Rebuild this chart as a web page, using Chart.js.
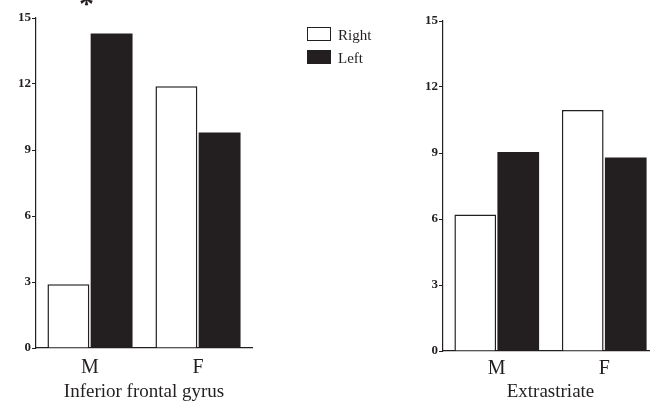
<!DOCTYPE html>
<html>
<head>
<meta charset="utf-8">
<script src="https://cdn.jsdelivr.net/npm/chart.js@4.4.1/dist/chart.umd.min.js"></script>
<style>
  html, body { margin:0; padding:0; width:650px; height:402px; overflow:hidden; background:#fff; }
  #c1 { position:absolute; left:0; top:0; }
  #c2 { position:absolute; left:400px; top:0; }
  .lg { position:absolute; font-family:"Liberation Serif","Times New Roman",serif; font-size:15px; color:#231f20; line-height:15px; }
  .box { position:absolute; width:22px; height:12px; border:1.5px solid #231f20; }
  #star { position:absolute; left:79px; top:-12px; font-family:"Liberation Serif",serif; font-weight:bold; font-size:30px; color:#231f20; line-height:30px; }
</style>
</head>
<body>
<canvas id="c1" width="270" height="402" style="width:270px;height:402px"></canvas>
<canvas id="c2" width="270" height="402" style="width:270px;height:402px"></canvas>
<div id="star">*</div>
<div class="box" style="left:307px;top:27px;background:#fff"></div>
<div class="lg" style="left:338px;top:28px">Right</div>
<div class="box" style="left:307px;top:50px;background:#231f20"></div>
<div class="lg" style="left:338px;top:51px">Left</div>
<script>
const categories = ["M", "F"];
const seriesNames = ["Right", "Left"];
const ifgRight = [2.9, 11.9];
const ifgLeft = [14.3, 9.8];
const extRight = [6.2, 10.95];
const extLeft = [9.05, 8.8];
const yTicks = [0, 3, 6, 9, 12, 15];
const panelTitles = ["Inferior frontal gyrus", "Extrastriate"];

const INK = "#231f20";
const SERIF = "'Liberation Serif','Times New Roman',serif";

function makeChart(id, right, left, title, yWidth, xHeight, padTop, padRight, tickPad) {
  return new Chart(document.getElementById(id), {
    type: "bar",
    data: {
      labels: categories,
      datasets: [
        { label: seriesNames[0], data: right, backgroundColor: "#ffffff", borderColor: INK, borderWidth: 1.5,
          categoryPercentage: 0.8, barPercentage: 0.97 },
        { label: seriesNames[1], data: left, backgroundColor: INK, borderColor: INK, borderWidth: 0,
          categoryPercentage: 0.8, barPercentage: 0.97 }
      ]
    },
    options: {
      responsive: false,
      animation: false,
      devicePixelRatio: 1,
      layout: { padding: { top: padTop, right: padRight, left: 0, bottom: 0 } },
      plugins: { legend: { display: false }, tooltip: { enabled: false }, title: { display: false } },
      scales: {
        x: {
          grid: { display: false },
          border: { display: true, color: INK, width: 1.2 },
          ticks: { color: INK, font: { family: SERIF, size: 20 }, padding: tickPad },
          title: { display: true, text: title, color: INK, font: { family: SERIF, size: 19, lineHeight: 1 }, padding: { top: 0, bottom: 0 } },
          afterFit: s => { s.height = xHeight; }
        },
        y: {
          min: 0, max: 15,
          afterBuildTicks: s => { s.ticks = yTicks.map(v => ({ value: v })); },
          grid: { display: true, drawOnChartArea: false, drawTicks: true, tickLength: 4, color: INK, lineWidth: 1 },
          border: { display: true, color: INK, width: 1.2 },
          ticks: { color: INK, font: { family: SERIF, size: 13, weight: "bold" }, padding: 1 },
          afterFit: s => { s.width = yWidth; }
        }
      }
    }
  });
}

makeChart("c1", ifgRight, ifgLeft, panelTitles[0], 36, 54, 18, 18, 0);
makeChart("c2", extRight, extLeft, panelTitles[1], 43, 51, 21, 12, -2);
</script>
</body>
</html>
